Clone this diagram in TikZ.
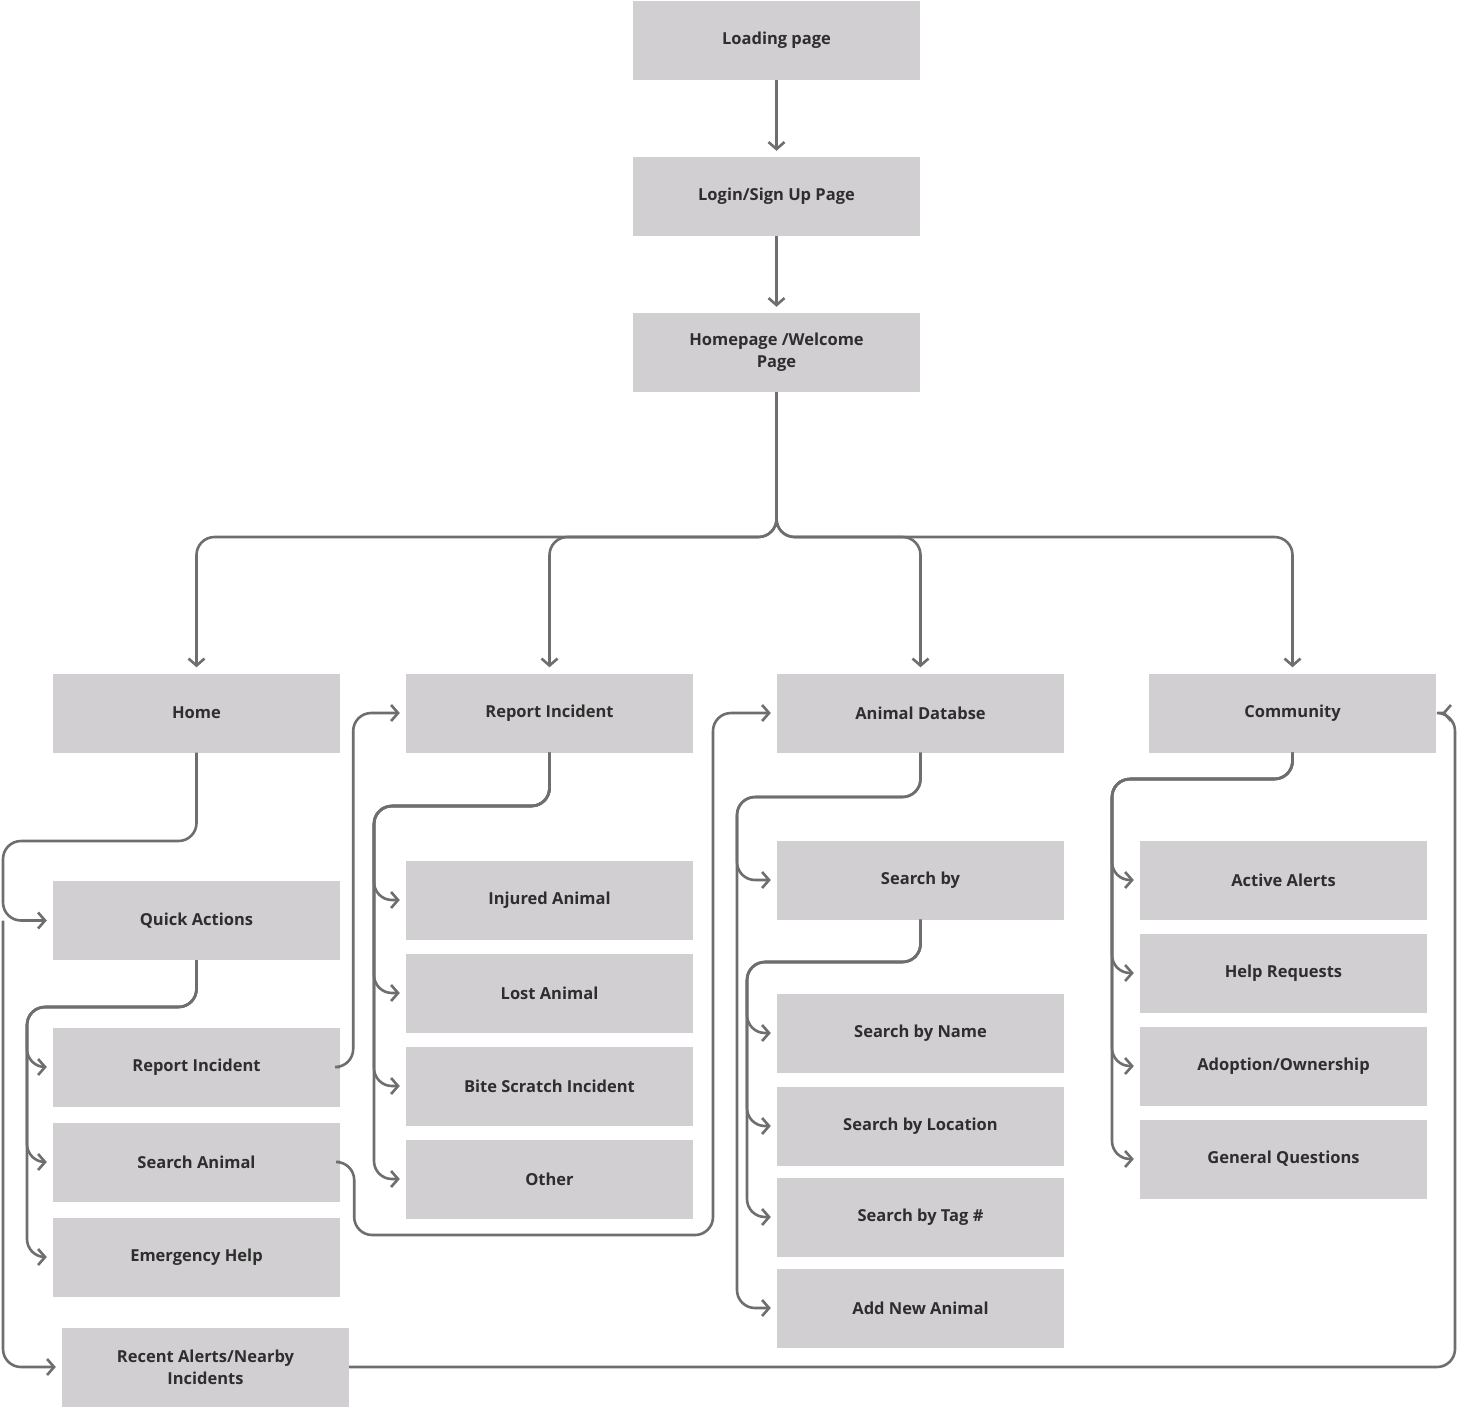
\documentclass[tikz,border=0pt]{standalone}
\usepackage{fontspec}
\setmainfont{Open Sans}
\usetikzlibrary{arrows.meta,positioning}
\definecolor{boxfill}{HTML}{D1CFD1}
\definecolor{linec}{HTML}{6E6E6E}
\definecolor{textc}{HTML}{2E2E2E}
\tikzset{
  box/.style={fill=boxfill, minimum width=287pt, minimum height=79pt, align=center,
    text=textc, font=\fontsize{16.5}{22}\selectfont\bfseries, inner sep=2pt},
  link/.style={draw=linec, line width=2.6pt, rounded corners=18pt,
    -{Straight Barb[length=7pt,width=16pt,line width=2.6pt]}, shorten >=6pt},
  plain/.style={draw=linec, line width=2.6pt, rounded corners=18pt}
}
\begin{document}
\begin{tikzpicture}[x=1pt,y=-1pt]
  \useasboundingbox (0,0) rectangle (1459,1408);
  % top chain
  \node[box] (load) at (776.5,40.5) {Loading page};
  \node[box] (login) at (776.5,196.5) {Login/Sign Up Page};
  \node[box] (hp) at (776.5,352.5) {Homepage /Welcome\\Page};
  % main sections
  \node[box] (home) at (196.5,713) {Home};
  \node[box] (ri) at (549.5,713) {Report Incident};
  \node[box] (ad) at (920.5,713) {Animal Databse};
  \node[box] (com) at (1292.5,713) {Community};
  % home branch
  \node[box] (qa) at (196.5,920.5) {Quick Actions};
  \node[box] (ri2) at (196.5,1067) {Report Incident};
  \node[box] (sa) at (196.5,1162) {Search Animal};
  \node[box] (eh) at (196.5,1257) {Emergency Help};
  \node[box] (recent) at (205.5,1367) {Recent Alerts/Nearby\\Incidents};
  % report branch
  \node[box] (inj) at (549.5,900) {Injured Animal};
  \node[box] (lost) at (549.5,993) {Lost Animal};
  \node[box] (bite) at (549.5,1086) {Bite Scratch Incident};
  \node[box] (other) at (549.5,1179) {Other};
  % database branch
  \node[box] (sb) at (920.5,880) {Search by};
  \node[box] (sbn) at (920.5,1033) {Search by Name};
  \node[box] (sbl) at (920.5,1126) {Search by Location};
  \node[box] (sbt) at (920.5,1217) {Search by Tag \#};
  \node[box] (ana) at (920.5,1308) {Add New Animal};
  % community branch
  \node[box] (aa) at (1283.5,880) {Active Alerts};
  \node[box] (hr) at (1283.5,973) {Help Requests};
  \node[box] (ado) at (1283.5,1066) {Adoption/Ownership};
  \node[box] (gq) at (1283.5,1159) {General Questions};

  % turning points
  \coordinate (hub) at (776.5,537);
  \coordinate (homeL) at (3,841);
  \coordinate (qaL) at (27,1007);
  \coordinate (riL) at (374,806);
  \coordinate (saB) at (713,1235);
  \coordinate (adL) at (737,797);
  \coordinate (sbL) at (747,962);
  \coordinate (comL) at (1112,779);
  \coordinate (recR) at (1455,1367);

  \draw[link] (load) -- (login);
  \draw[link] (login) -- (hp);
  \foreach \t in {home,ri,ad,com}
    \draw[link] (hp.south) |- (hub) -| (\t.north);
  \draw[link] (home.south) |- (homeL) |- (qa.west);
  \draw[link] (homeL |- qa.west) |- (recent.west);
  \foreach \t in {ri2,sa,eh}
    \draw[link] (qa.south) |- (qaL) |- (\t.west);
  \draw[link] (ri2.east) -- ++(13,0) |- (ri.west);
  \draw[link] (sa.east) -- ++(14,0) |- (saB) |- (ad.west);
  \foreach \t in {inj,lost,bite,other}
    \draw[link] (ri.south) |- (riL) |- (\t.west);
  \foreach \t in {sb,ana}
    \draw[link] (ad.south) |- (adL) |- (\t.west);
  \foreach \t in {sbn,sbl,sbt}
    \draw[link] (sb.south) |- (sbL) |- (\t.west);
  \foreach \t in {aa,hr,ado,gq}
    \draw[link] (com.south) |- (comL) |- (\t.west);
  \draw[link] (recent.east) -- (recR) |- (com.east);
\end{tikzpicture}
\end{document}
